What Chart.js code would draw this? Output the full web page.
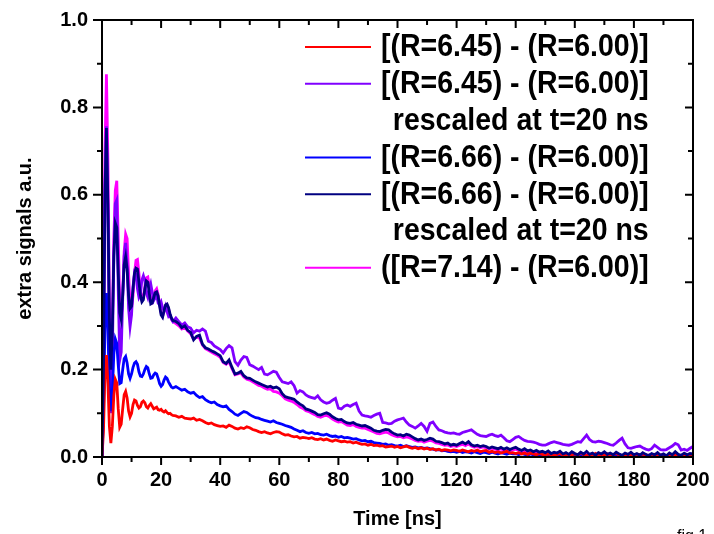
<!DOCTYPE html>
<html>
<head>
<meta charset="utf-8">
<script src="https://cdn.jsdelivr.net/npm/chart.js@4.4.1/dist/chart.umd.min.js"></script>
<style>
  html, body { margin: 0; padding: 0; background: #fff; }
  #wrap { width: 714px; height: 534px; }
</style>
</head>
<body>
<div id="wrap"><canvas id="chart" width="714" height="534"></canvas></div>
<script>
// ---------- DATA ----------
// samples: 0..24 ns every 0.5 ns, then 25..200 ns every 1 ns
const times = [];
for (let i = 0; i <= 48; i++) times.push(i / 2);
for (let t = 25; t <= 200; t++) times.push(t);

const seriesLabels = [
  ["[(R=6.45) - (R=6.00)]"],
  ["[(R=6.45) - (R=6.00)]", "rescaled at t=20 ns"],
  ["[(R=6.66) - (R=6.00)]"],
  ["[(R=6.66) - (R=6.00)]", "rescaled at t=20 ns"],
  ["([R=7.14) - (R=6.00)]"]
];
const seriesColors = ["#ff0000", "#8000ff", "#0000ff", "#000080", "#ff00ff"];

const redEarly = [
  0, .06, .19, .233, .17, .07, .032, .07, .14, .178,
  .17, .11, .068, .075, .11, .142, .15, .135, .105, .092,
  .1, .12, .13, .128, .118, .112, .115, .125, .128, .124,
  .115, .112, .118, .122, .116, .11, .112, .114, .108, .107,
  .109, .105, .103, .106, .102, .099, .1, .097, .095
];
const redLate = [
  .094, .091, .093, .089, .088, .087, .089, .084, .086, .083,
  .079, .076, .078, .074, .072, .07, .071, .068, .073, .07,
  .066, .064, .067, .065, .069, .067, .063, .061, .058, .056,
  .058, .055, .053, .056, .058, .057, .053, .05, .051, .048,
  .046, .047, .043, .045, .044, .042, .044, .041, .04, .042,
  .039, .041, .038, .036, .039, .037, .035, .036, .034, .035,
  .032, .034, .031, .029, .03, .027, .029, .026, .027, .025,
  .026, .023, .024, .025, .022, .024, .021, .023, .025, .022,
  .02, .022, .019, .021, .018, .02, .017, .019, .016, .018,
  .015, .017, .016, .014, .016, .015, .013, .016, .014, .012,
  .015, .013, .016, .012, .014, .015, .011, .013, .01, .012,
  .009, .011, .013, .009, .01, .008, .01, .007, .009, .006,
  .009, .007, .005, .008, .006, .004, .007, .005, .003, .006,
  .008, .004, .006, .003, .005, .007, .004, .01, .005, .003,
  .006, .004, .008, .003, .005, .004, .007, .003, .005, .009,
  .004, .002, .005, .003, .006, .004, .002, .005, .007, .003,
  .004, .002, .006, .003, .005, .004, .002, .005, .003, .006,
  .004, .002, .005, .003, .004, .006
];

const purpleEarly = [
  0, .2, .62, .757, .55, .23, .1, .23, .455, .58,
  .588, .38, .222, .24, .36, .46, .49, .44, .34, .298,
  .325, .39, .423, .418, .385, .365, .372, .405, .415, .403,
  .375, .365, .383, .396, .377, .358, .364, .37, .352, .348,
  .355, .342, .335, .345, .332, .322, .326, .316, .31
];
const purpleLate = [
  .318, .31, .302, .307, .298, .295, .284, .29, .288, .293,
  .288, .265, .262, .254, .25, .246, .238, .248, .255, .25,
  .218, .21, .222, .23, .228, .211, .208, .204, .2, .205,
  .19, .188, .192, .196, .194, .182, .172, .17, .168, .172,
  .163, .146, .152, .149, .142, .138, .136, .134, .14, .131,
  .126, .123, .125, .13, .134, .112, .11, .116, .119, .116,
  .12, .123, .105, .096, .094, .093, .091, .095, .098, .1,
  .079, .078, .076, .077, .082, .085, .087, .089, .08, .073,
  .07, .066, .071, .077, .07, .059, .077, .08, .07, .062,
  .06, .057, .055, .054, .055, .053, .052, .056, .058, .06,
  .062, .057, .052, .049, .048, .047, .05, .052, .049, .047,
  .05, .044, .037, .035, .04, .045, .047, .042, .038, .036,
  .035, .034, .032, .029, .027, .027, .03, .033, .035, .033,
  .031, .029, .028, .027, .029, .032, .035, .034, .042, .05,
  .04, .035, .034, .036, .035, .033, .031, .028, .027, .032,
  .038, .043, .03, .021, .02, .022, .024, .025, .021, .018,
  .016, .019, .027, .022, .017, .016, .017, .021, .025, .031,
  .028, .016, .018, .015, .02, .024
];

const blueEarly = [
  0, .1, .3, .375, .29, .16, .105, .15, .235, .27,
  .26, .21, .168, .17, .2, .225, .23, .215, .19, .18,
  .19, .205, .215, .218, .212, .195, .185, .184, .19, .2,
  .207, .204, .19, .18, .181, .188, .192, .19, .18, .168,
  .162, .166, .176, .183, .18, .172, .166, .16, .158
];
const blueLate = [
  .161, .157, .153, .155, .149, .146, .148, .141, .136, .138,
  .131, .127, .124, .126, .12, .117, .115, .117, .109, .104,
  .098, .095, .1, .104, .102, .097, .093, .09, .089, .086,
  .084, .082, .08, .083, .079, .077, .075, .072, .07, .068,
  .064, .061, .058, .06, .056, .054, .056, .053, .054, .051,
  .05, .052, .049, .047, .048, .045, .047, .044, .045, .043,
  .041, .042, .039, .037, .038, .035, .036, .033, .032, .031,
  .029, .03, .027, .028, .026, .025, .027, .024, .026, .024,
  .022, .023, .021, .022, .02, .021, .019, .018, .016, .017,
  .014, .015, .013, .012, .013, .011, .013, .01, .012, .011,
  .009, .012, .01, .008, .011, .01, .008, .011, .009, .007,
  .01, .008, .006, .009, .007, .008, .005, .008, .006, .004,
  .007, .005, .003, .006, .004, .006, .003, .005, .007, .003,
  .005, .002, .006, .004, .002, .005, .003, .006, .004, .002,
  .005, .007, .003, .004, .002, .005, .003, .006, .002, .004,
  .006, .003, .001, .004, .005, .002, .004, .006, .003, .001,
  .004, .006, .002, .004, .003, .005, .002, .004, .006, .003,
  .002, .004, .006, .003, .005, .004
];

const navyEarly = [
  0, .2, .6, .753, .58, .32, .2, .29, .46, .535,
  .525, .42, .33, .315, .37, .44, .458, .43, .37, .34,
  .345, .385, .42, .432, .43, .4, .37, .355, .36, .385,
  .403, .4, .375, .35, .352, .365, .376, .378, .368, .345,
  .325, .32, .335, .348, .35, .342, .328, .318, .312
];
const navyLate = [
  .31, .305, .296, .3, .29, .285, .268, .276, .279, .258,
  .25, .247, .243, .24, .236, .232, .218, .214, .222, .205,
  .19, .192, .196, .186, .181, .18, .176, .172, .169, .166,
  .163, .16, .162, .158, .16, .156, .145, .138, .136, .134,
  .132, .126, .121, .117, .11, .108, .105, .102, .097, .096,
  .099, .101, .098, .092, .088, .085, .086, .081, .078, .077,
  .079, .075, .073, .071, .072, .069, .066, .061, .059, .058,
  .061, .063, .062, .057, .053, .05, .051, .048, .052, .05,
  .046, .042, .039, .041, .038, .04, .043, .041, .036, .035,
  .033, .03, .032, .027, .029, .027, .031, .034, .03, .035,
  .028, .025, .027, .024, .026, .024, .02, .023, .021, .019,
  .022, .018, .021, .017, .02, .022, .018, .015, .019, .014,
  .016, .012, .015, .011, .013, .01, .014, .008, .011, .009,
  .013, .007, .01, .006, .012, .008, .005, .011, .007, .013,
  .006, .009, .004, .01, .007, .012, .006, .009, .005, .011,
  .007, .004, .009, .006, .011, .005, .008, .004, .01, .006,
  .003, .008, .005, .01, .004, .007, .003, .009, .005, .012,
  .006, .004, .009, .005, .008, .007
];

const magentaEarly = [
  0, .25, .7, .876, .68, .36, .2, .3, .5, .61,
  .632, .5, .36, .31, .37, .47, .51, .5, .42, .35,
  .34, .37, .42, .45, .452, .42, .38, .36, .365, .39,
  .41, .412, .39, .36, .355, .365, .38, .385, .372, .35,
  .33, .322, .332, .344, .348, .34, .325, .315, .31
];
const magentaLate = [
  .305, .3, .293, .297, .288, .282, .27, .274, .272, .256,
  .248, .244, .24, .236, .233, .228, .216, .212, .218, .202,
  .188, .19, .192, .183, .178, .176, .172, .168, .164, .162,
  .158, .155, .156, .15, .149, .146, .14, .133, .13, .128,
  .125, .12, .114, .111, .106, .104, .1, .097, .093, .091,
  .094, .095, .092, .087, .083, .08, .081, .077, .073, .072,
  .074, .07, .068, .066, .066, .063, .06, .057, .054, .053,
  .055, .057, .055, .051, .048, .046, .047, .044, .046, .044,
  .041, .038, .036, .037, .034, .036, .038, .036, .032, .031,
  .029, .027, .028, .024, .026, .024, .027, .029, .026, .03,
  .025, .022, .024, .021, .023, .021, .018, .02, .018, .016,
  .019, .015, .018, .014, .016, .018, .015, .012, .015, .011,
  .013, .009, .012, .008, .01, .007, .011, .005, .008, .006,
  .01, .004, .007, .003, .009, .005, .002, .008, .004, .01,
  .003, .006, .002, .007, .004, .009, .003, .006, .002, .008,
  .004, .001, .006, .003, .008, .002, .005, .001, .007, .003,
  .001, .005, .002, .007, .001, .004, .001, .006, .002, .009,
  .003, .001, .006, .002, .005, .004
];

const seriesValues = [
  redEarly.concat(redLate),
  purpleEarly.concat(purpleLate),
  blueEarly.concat(blueLate),
  navyEarly.concat(navyLate),
  magentaEarly.concat(magentaLate)
];
// which curve lies on top (lower = drawn later)
const drawOrder = [2, 4, 3, 1, 5];

const xTicks = [0, 20, 40, 60, 80, 100, 120, 140, 160, 180, 200];
const yTicks = [0, 0.2, 0.4, 0.6, 0.8, 1.0];

const FONT = '"Liberation Sans", Arial, Helvetica, sans-serif';

// ---------- FRAME + TICKS ----------
const framePlugin = {
  id: "frame",
  afterDraw(chart) {
    const { ctx, chartArea: a, scales: { x, y } } = chart;
    ctx.save();
    ctx.strokeStyle = "#000";
    ctx.lineWidth = 2;
    ctx.strokeRect(a.left, a.top, a.right - a.left, a.bottom - a.top);
    ctx.beginPath();
    for (let t = 0; t <= 200; t += 10) {
      const px = x.getPixelForValue(t);
      const major = t % 20 === 0;
      ctx.moveTo(px, a.bottom);
      ctx.lineTo(px, a.bottom + (major ? 8 : 5));
      ctx.moveTo(px, a.top);
      ctx.lineTo(px, a.top + (major ? 8 : 5));
    }
    for (let i = 0; i <= 10; i++) {
      const py = y.getPixelForValue(i / 10);
      const major = i % 2 === 0;
      ctx.moveTo(a.left, py);
      ctx.lineTo(a.left - (major ? 9 : 5), py);
      ctx.moveTo(a.right, py);
      ctx.lineTo(a.right - (major ? 8 : 5), py);
    }
    ctx.stroke();

    ctx.fillStyle = "#000";
    ctx.font = "16px " + FONT;
    ctx.fillText("fig.1", 677, 541);
    ctx.restore();
  }
};

// ---------- LEGEND ----------
const legendPlugin = {
  id: "legendBox",
  afterDraw(chart) {
    const ctx = chart.ctx;
    const rowH = 36.8;
    const stretch = 1.08;
    let rowY = 47;
    ctx.save();
    ctx.font = "bold 28.5px " + FONT;
    ctx.textBaseline = "middle";
    ctx.fillStyle = "#000";
    chart.data.datasets.forEach((ds, i) => {
      const lines = seriesLabels[i];
      ctx.strokeStyle = ds.borderColor;
      ctx.lineWidth = 2;
      ctx.beginPath();
      ctx.moveTo(305, rowY);
      ctx.lineTo(371, rowY);
      ctx.stroke();
      const w1 = ctx.measureText(lines[0]).width;
      lines.forEach((txt, k) => {
        const w = ctx.measureText(txt).width;
        ctx.save();
        ctx.translate(381 + w1 - w, rowY + 1);
        ctx.scale(1, stretch);
        ctx.fillText(txt, 0, 0);
        ctx.restore();
        rowY += rowH;
      });
    });
    ctx.restore();
  }
};

// ---------- CHART ----------
const datasets = seriesValues.map((vals, i) => ({
  label: seriesLabels[i].join(" "),
  data: vals.map((v, k) => ({ x: times[k], y: v })),
  borderColor: seriesColors[i],
  borderWidth: 2.8,
  pointRadius: 0,
  tension: 0,
  fill: false,
  order: drawOrder[i]
}));

function noPad(s) {
  s.paddingTop = 0;
  s.paddingBottom = 0;
  s.paddingLeft = 0;
  s.paddingRight = 0;
}

new Chart(document.getElementById("chart"), {
  type: "line",
  data: { datasets },
  options: {
    responsive: false,
    animation: false,
    devicePixelRatio: 1,
    layout: { padding: { top: 20, right: 21, left: 0, bottom: 0 } },
    plugins: { legend: { display: false }, tooltip: { enabled: false } },
    scales: {
      x: {
        type: "linear",
        min: 0,
        max: 200,
        afterFit: (s) => { s.height = 77; noPad(s); },
        afterBuildTicks: (s) => { s.ticks = xTicks.map((v) => ({ value: v })); },
        grid: { display: false, drawTicks: false },
        border: { display: false },
        ticks: {
          color: "#000",
          padding: 11,
          maxRotation: 0,
          font: { family: FONT, size: 20, weight: "bold" }
        },
        title: {
          display: true,
          text: "Time [ns]",
          color: "#000",
          padding: { top: 3, bottom: 3 },
          font: { family: FONT, size: 20, weight: "bold" }
        }
      },
      y: {
        min: 0,
        max: 1,
        afterFit: (s) => { s.width = 102; noPad(s); },
        afterBuildTicks: (s) => { s.ticks = yTicks.map((v) => ({ value: v })); },
        grid: { display: false, drawTicks: false },
        border: { display: false },
        ticks: {
          color: "#000",
          padding: 14,
          font: { family: FONT, size: 20, weight: "bold" },
          callback: (v) => Number(v).toFixed(1)
        },
        title: {
          display: true,
          text: "extra signals a.u.",
          color: "#000",
          padding: { top: 13, bottom: 13 },
          font: { family: FONT, size: 20, weight: "bold" }
        }
      }
    }
  },
  plugins: [framePlugin, legendPlugin]
});
</script>
</body>
</html>
